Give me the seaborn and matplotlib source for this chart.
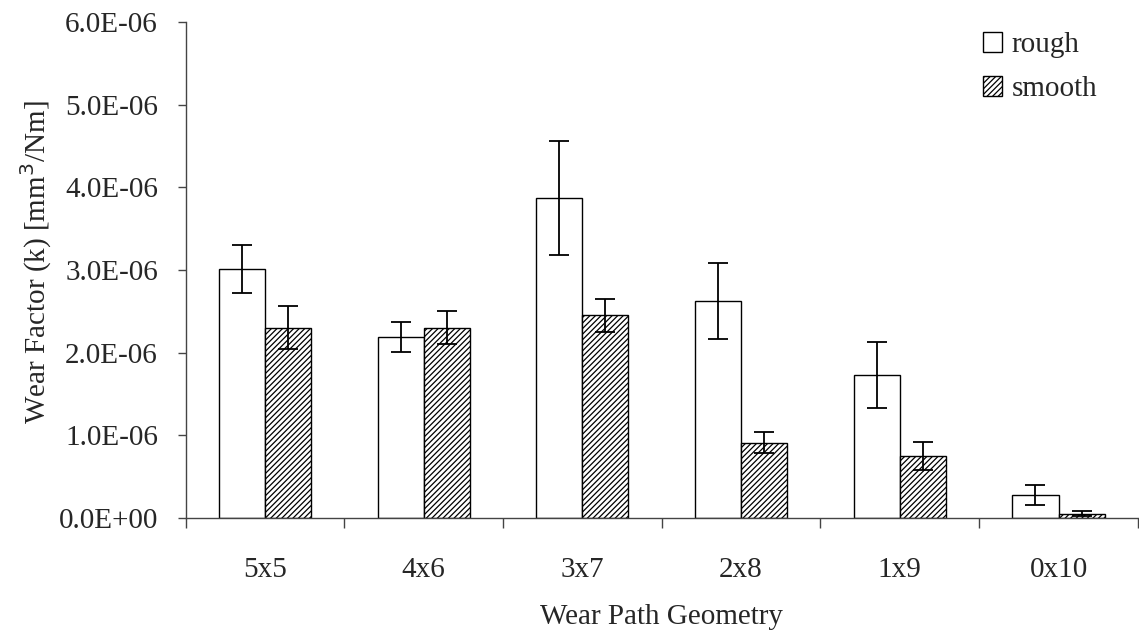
import pandas as pd
import seaborn as sns
import matplotlib.pyplot as plt
from matplotlib.ticker import FuncFormatter, FixedLocator

# Données
geometries = ["5x5", "4x6", "3x7", "2x8", "1x9", "0x10"]
rough = [3.01e-6, 2.19e-6, 3.87e-6, 2.62e-6, 1.73e-6, 0.28e-6]
rough_err = [0.29e-6, 0.18e-6, 0.69e-6, 0.46e-6, 0.40e-6, 0.12e-6]
smooth = [2.30e-6, 2.30e-6, 2.45e-6, 0.91e-6, 0.75e-6, 0.05e-6]
smooth_err = [0.26e-6, 0.20e-6, 0.20e-6, 0.13e-6, 0.17e-6, 0.03e-6]

df = pd.DataFrame({
    "geometry": geometries * 2,
    "k": rough + smooth,
    "surface": ["rough"] * 6 + ["smooth"] * 6,
})

sns.set_style("white")
plt.rcParams["font.family"] = ["Liberation Serif", "DejaVu Serif"]
plt.rcParams["hatch.linewidth"] = 0.9
plt.rcParams["hatch.color"] = "#222222"
FS = 21

fig = plt.figure(figsize=(11.39, 6.33), dpi=100)
ax = fig.add_axes([0.163, 0.182, 0.836, 0.783])

sns.barplot(data=df, x="geometry", y="k", hue="surface",
            palette={"rough": "white", "smooth": "white"},
            width=0.58, gap=0, edgecolor="black", linewidth=1.0,
            errorbar=None, ax=ax)

# hachures + barres d'erreur
for cont, errs, hatch in zip(ax.containers, [rough_err, smooth_err], [None, "//////"]):
    xs, ys = [], []
    for bar in cont:
        if hatch:
            bar.set_hatch(hatch)
        xs.append(bar.get_x() + bar.get_width() / 2)
        ys.append(bar.get_height())
    ax.errorbar(xs, ys, yerr=errs, fmt="none", ecolor="black",
                elinewidth=1.3, capsize=7.5, capthick=1.3)

ax.set_ylim(0, 6e-6)
ax.set_xlim(-0.5, 5.5)
ax.set_yticks([i * 1e-6 for i in range(7)])
ax.yaxis.set_major_formatter(FuncFormatter(lambda v, p: f"{v:.1E}"))
ax.xaxis.set_minor_locator(FixedLocator([i - 0.5 for i in range(7)]))

ax.tick_params(axis="x", which="major", length=0, pad=28, labelsize=FS)
ax.tick_params(axis="x", which="minor", length=7, width=1, direction="out",
               color="#444444", bottom=True)
ax.tick_params(axis="y", length=6, width=1, direction="out", pad=14,
               labelsize=FS, color="#444444", left=True)

for s in ["top", "right"]:
    ax.spines[s].set_visible(False)
for s in ["left", "bottom"]:
    ax.spines[s].set_color("#444444")
    ax.spines[s].set_linewidth(1.0)

ax.set_xlabel("Wear Path Geometry", fontsize=FS, labelpad=15)
ax.set_ylabel("Wear Factor (k) [mm$^3$/Nm]", fontsize=FS, labelpad=5)
ax.yaxis.set_label_coords(-0.138, 0.515)

leg = ax.legend(loc="upper left", bbox_to_anchor=(983 / 1139, 1 - 32 / 633),
                bbox_transform=fig.transFigure, frameon=False,
                fontsize=FS, handlelength=0.66, handleheight=0.66,
                handletextpad=0.32, labelspacing=0.62, borderpad=0,
                borderaxespad=0)
leg.legend_handles[1].set_hatch("//////")

fig.savefig("out.png", dpi=100)
